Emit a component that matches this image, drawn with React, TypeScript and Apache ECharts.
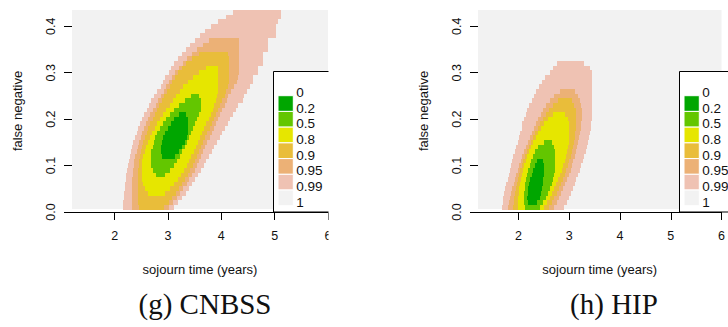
import React, { useEffect, useRef } from "react";
import * as echarts from "echarts";

// ---------- data ----------
const levelLabels = ["0", "0.2", "0.5", "0.8", "0.9", "0.95", "0.99", "1"];
const levelColors = ["#00A600", "#63C600", "#E6E600", "#E9BD3A", "#ECB176", "#EFC2B3", "#F2F2F2"];
const xTicks = [2, 3, 4, 5, 6];
const yTicks = [0, 0.1, 0.2, 0.3, 0.4];
const xMin = 1.2;
const xMax = 6.0;
const yMin = 0;
const yMax = 0.435;
const imageBottom = 0.006;
const rowHeight = 0.01;
const panelTitles = ["(g) CNBSS", "(h) HIP"];
const xTitle = "sojourn time (years)";
const yTitle = "false negative";

// rows: [false negative (row centre), sojourn time left edge, sojourn time right edge]
const cnbss99 = [
  [0.43, 4.22, 5.11], [0.42, 4.08, 5.11], [0.41, 3.93, 5.06], [0.40, 3.80, 5.02], [0.39, 3.69, 5.02],
  [0.38, 3.60, 5.02], [0.37, 3.51, 4.88], [0.36, 3.42, 4.88], [0.35, 3.34, 4.88], [0.34, 3.26, 4.78],
  [0.33, 3.19, 4.78], [0.32, 3.12, 4.78], [0.31, 3.06, 4.68], [0.30, 3.01, 4.68], [0.29, 2.95, 4.59],
  [0.28, 2.90, 4.59], [0.27, 2.86, 4.54], [0.26, 2.80, 4.49], [0.25, 2.74, 4.42], [0.24, 2.69, 4.40],
  [0.23, 2.64, 4.32], [0.22, 2.60, 4.27], [0.21, 2.55, 4.22], [0.20, 2.51, 4.17], [0.19, 2.47, 4.12],
  [0.18, 2.44, 4.07], [0.17, 2.41, 4.02], [0.16, 2.38, 3.97], [0.15, 2.35, 3.92], [0.14, 2.33, 3.87],
  [0.13, 2.31, 3.82], [0.12, 2.29, 3.77], [0.11, 2.27, 3.72], [0.10, 2.25, 3.67], [0.09, 2.24, 3.62],
  [0.08, 2.22, 3.57], [0.07, 2.21, 3.51], [0.06, 2.20, 3.45], [0.05, 2.19, 3.39], [0.04, 2.18, 3.33],
  [0.03, 2.17, 3.26], [0.02, 2.165, 3.19], [0.01, 2.16, 3.11],
];
const cnbss95 = [
  [0.37, 3.77, 4.33], [0.36, 3.66, 4.34], [0.35, 3.55, 4.34], [0.34, 3.45, 4.34], [0.33, 3.36, 4.34],
  [0.32, 3.28, 4.34], [0.31, 3.21, 4.33], [0.30, 3.14, 4.33], [0.29, 3.08, 4.32], [0.28, 3.02, 4.29],
  [0.27, 2.97, 4.24], [0.26, 2.92, 4.18], [0.25, 2.87, 4.13], [0.24, 2.82, 4.10], [0.23, 2.77, 4.06],
  [0.22, 2.72, 4.02], [0.21, 2.67, 3.98], [0.20, 2.63, 3.94], [0.19, 2.59, 3.90], [0.18, 2.55, 3.86],
  [0.17, 2.52, 3.82], [0.16, 2.49, 3.78], [0.15, 2.46, 3.74], [0.14, 2.43, 3.70], [0.13, 2.41, 3.66],
  [0.12, 2.39, 3.62], [0.11, 2.37, 3.58], [0.10, 2.36, 3.54], [0.09, 2.35, 3.50], [0.08, 2.34, 3.45],
  [0.07, 2.33, 3.40], [0.06, 2.33, 3.35], [0.05, 2.32, 3.29], [0.04, 2.32, 3.23], [0.03, 2.32, 3.17],
  [0.02, 2.32, 3.10], [0.01, 2.33, 3.02],
];
const cnbss90 = [
  [0.34, 3.58, 4.13], [0.33, 3.45, 4.15], [0.32, 3.34, 4.15], [0.31, 3.26, 4.15], [0.30, 3.19, 4.15],
  [0.29, 3.13, 4.15], [0.28, 3.08, 4.14], [0.27, 3.03, 4.12], [0.26, 2.98, 4.09], [0.25, 2.93, 4.06],
  [0.24, 2.88, 4.02], [0.23, 2.84, 3.98], [0.22, 2.79, 3.94], [0.21, 2.75, 3.90], [0.20, 2.71, 3.86],
  [0.19, 2.67, 3.82], [0.18, 2.63, 3.78], [0.17, 2.60, 3.74], [0.16, 2.57, 3.70], [0.15, 2.54, 3.66],
  [0.14, 2.51, 3.62], [0.13, 2.49, 3.58], [0.12, 2.47, 3.54], [0.11, 2.46, 3.50], [0.10, 2.45, 3.46],
  [0.09, 2.44, 3.42], [0.08, 2.43, 3.37], [0.07, 2.43, 3.32], [0.06, 2.43, 3.27], [0.05, 2.43, 3.21],
  [0.04, 2.43, 3.15], [0.03, 2.44, 3.08], [0.02, 2.44, 3.01], [0.01, 2.45, 2.93],
];
const cnbss80 = [
  [0.31, 3.72, 3.94], [0.30, 3.58, 3.94], [0.29, 3.46, 3.94], [0.28, 3.37, 3.94], [0.27, 3.29, 3.94],
  [0.26, 3.22, 3.93], [0.25, 3.15, 3.92], [0.24, 3.09, 3.90], [0.23, 3.03, 3.87], [0.22, 2.96, 3.84],
  [0.21, 2.90, 3.80], [0.20, 2.85, 3.76], [0.19, 2.80, 3.72], [0.18, 2.75, 3.68], [0.17, 2.70, 3.64],
  [0.16, 2.66, 3.60], [0.15, 2.62, 3.56], [0.14, 2.59, 3.52], [0.13, 2.56, 3.48], [0.12, 2.54, 3.44],
  [0.11, 2.52, 3.40], [0.10, 2.51, 3.35], [0.09, 2.51, 3.30], [0.08, 2.51, 3.25], [0.07, 2.52, 3.19],
  [0.06, 2.54, 3.12], [0.05, 2.57, 3.04], [0.04, 2.62, 2.94],
];
const cnbss50 = [
  [0.25, 3.44, 3.58], [0.24, 3.32, 3.61], [0.23, 3.20, 3.62], [0.22, 3.11, 3.61], [0.21, 3.03, 3.58],
  [0.20, 2.96, 3.55], [0.19, 2.90, 3.51], [0.18, 2.85, 3.47], [0.17, 2.80, 3.43], [0.16, 2.76, 3.39],
  [0.15, 2.73, 3.35], [0.14, 2.71, 3.31], [0.13, 2.69, 3.27], [0.12, 2.68, 3.22], [0.11, 2.68, 3.17],
  [0.10, 2.69, 3.11], [0.09, 2.72, 3.04], [0.08, 2.78, 2.95],
];
const cnbss20 = [
  [0.21, 3.20, 3.34], [0.20, 3.11, 3.37], [0.19, 3.05, 3.38], [0.18, 3.00, 3.38], [0.17, 2.95, 3.37],
  [0.16, 2.91, 3.35], [0.15, 2.88, 3.31], [0.14, 2.86, 3.26], [0.13, 2.86, 3.21], [0.12, 2.89, 3.14],
];

const hip99 = [
  [0.32, 2.76, 3.28], [0.31, 2.68, 3.40], [0.30, 2.61, 3.44], [0.29, 2.53, 3.44], [0.28, 2.46, 3.44],
  [0.27, 2.40, 3.44], [0.26, 2.34, 3.44], [0.25, 2.30, 3.44], [0.24, 2.26, 3.44], [0.23, 2.21, 3.44],
  [0.22, 2.175, 3.44], [0.21, 2.14, 3.44], [0.20, 2.11, 3.44], [0.19, 2.075, 3.43], [0.18, 2.06, 3.42],
  [0.17, 2.03, 3.40], [0.16, 2.006, 3.38], [0.15, 1.98, 3.36], [0.14, 1.94, 3.34], [0.13, 1.92, 3.32],
  [0.12, 1.89, 3.29], [0.11, 1.875, 3.27], [0.10, 1.856, 3.24], [0.09, 1.83, 3.21], [0.08, 1.81, 3.18],
  [0.07, 1.79, 3.14], [0.06, 1.76, 3.11], [0.05, 1.74, 3.07], [0.04, 1.72, 3.03], [0.03, 1.70, 3.00],
  [0.02, 1.69, 2.95], [0.01, 1.675, 2.89],
];
const hip95 = [
  [0.26, 2.82, 3.12], [0.25, 2.70, 3.18], [0.24, 2.62, 3.22], [0.23, 2.55, 3.24], [0.22, 2.49, 3.25],
  [0.21, 2.44, 3.25], [0.20, 2.39, 3.25], [0.19, 2.35, 3.24], [0.18, 2.31, 3.23], [0.17, 2.27, 3.21],
  [0.16, 2.23, 3.19], [0.15, 2.19, 3.17], [0.14, 2.15, 3.15], [0.13, 2.11, 3.13], [0.12, 2.07, 3.11],
  [0.11, 2.04, 3.08], [0.10, 2.01, 3.06], [0.09, 1.98, 3.03], [0.08, 1.95, 3.00], [0.07, 1.92, 2.96],
  [0.06, 1.90, 2.92], [0.05, 1.87, 2.88], [0.04, 1.85, 2.84], [0.03, 1.83, 2.80], [0.02, 1.81, 2.75],
  [0.01, 1.80, 2.70],
];
const hip90 = [
  [0.24, 2.78, 3.06], [0.23, 2.68, 3.10], [0.22, 2.60, 3.13], [0.21, 2.54, 3.14], [0.20, 2.48, 3.14],
  [0.19, 2.43, 3.14], [0.18, 2.38, 3.13], [0.17, 2.33, 3.12], [0.16, 2.28, 3.11], [0.15, 2.24, 3.09],
  [0.14, 2.20, 3.07], [0.13, 2.16, 3.05], [0.12, 2.12, 3.03], [0.11, 2.09, 3.00], [0.10, 2.06, 2.97],
  [0.09, 2.03, 2.94], [0.08, 2.01, 2.91], [0.07, 1.98, 2.87], [0.06, 1.96, 2.83], [0.05, 1.94, 2.79],
  [0.04, 1.92, 2.75], [0.03, 1.91, 2.70], [0.02, 1.90, 2.65], [0.01, 1.89, 2.60],
];
const hip80 = [
  [0.21, 2.68, 2.92], [0.20, 2.58, 2.97], [0.19, 2.51, 2.99], [0.18, 2.45, 3.00], [0.17, 2.39, 3.00],
  [0.16, 2.34, 3.00], [0.15, 2.29, 2.99], [0.14, 2.25, 2.98], [0.13, 2.21, 2.96], [0.12, 2.17, 2.94],
  [0.11, 2.14, 2.91], [0.10, 2.11, 2.88], [0.09, 2.08, 2.85], [0.08, 2.06, 2.82], [0.07, 2.04, 2.78],
  [0.06, 2.02, 2.74], [0.05, 2.01, 2.70], [0.04, 2.00, 2.66], [0.03, 1.99, 2.61], [0.02, 1.99, 2.56],
  [0.01, 1.99, 2.50],
];
const hip50 = [
  [0.15, 2.50, 2.66], [0.14, 2.38, 2.69], [0.13, 2.32, 2.71], [0.12, 2.28, 2.72], [0.11, 2.25, 2.72],
  [0.10, 2.22, 2.72], [0.09, 2.19, 2.71], [0.08, 2.17, 2.70], [0.07, 2.15, 2.68], [0.06, 2.13, 2.65],
  [0.05, 2.12, 2.62], [0.04, 2.11, 2.58], [0.03, 2.11, 2.54], [0.02, 2.11, 2.49], [0.01, 2.12, 2.43],
];
const hip20 = [
  [0.11, 2.36, 2.48], [0.10, 2.32, 2.50], [0.09, 2.29, 2.50], [0.08, 2.26, 2.50], [0.07, 2.23, 2.49],
  [0.06, 2.21, 2.48], [0.05, 2.19, 2.47], [0.04, 2.18, 2.45], [0.03, 2.17, 2.42], [0.02, 2.19, 2.37],
];

const panelBands = [
  [cnbss99, cnbss95, cnbss90, cnbss80, cnbss50, cnbss20],
  [hip99, hip95, hip90, hip80, hip50, hip20],
];

// ---------- layout ----------
const W = 728;
const H = 327;
const gridLefts = [72, 478];
const gridTop = 10;
const gridWidth = 256;
const gridHeight = 202;
const legendLefts = [273.5, 679.5];
const captionCenters = [205, 614];
const FONT = "Liberation Sans";

function bandItems(bands: number[][][]) {
  const out: number[][] = [];
  bands.forEach((rows, k) => {
    const colorIndex = 5 - k; // outer (0.99) -> inner (0.2)
    rows.forEach((r) => out.push([r[0], r[1], r[2], colorIndex]));
  });
  return out;
}

function legendGraphics(left: number) {
  const els: any[] = [];
  const boxTop = 71.5;
  const boxBottom = 212;
  els.push({
    type: "rect",
    z: 20,
    shape: { x: left, y: boxTop, width: 70, height: boxBottom - boxTop },
    style: { fill: "#fff", stroke: "#000", lineWidth: 1 },
  });
  const step = 15.72;
  levelColors.forEach((c, i) => {
    els.push({
      type: "rect",
      z: 21,
      shape: { x: left + 4.5, y: 95.7 + step * i, width: 15.3, height: step },
      style: { fill: c, stroke: "#fff", lineWidth: 1 },
    });
  });
  levelLabels.forEach((t, i) => {
    els.push({
      type: "text",
      z: 22,
      x: left + 22.8,
      y: 92.3 + step * i,
      style: {
        text: t,
        fill: "#111",
        font: `13.5px '${FONT}'`,
        textAlign: "left",
        textVerticalAlign: "middle",
      },
    });
  });
  return els;
}

export default function App() {
  const ref = useRef<HTMLDivElement>(null);
  useEffect(() => {
    if (!ref.current) return;
    const chart = echarts.init(ref.current, undefined, { renderer: "svg", width: W, height: H });

    const grids = gridLefts.map((l) => ({ left: l, top: gridTop, width: gridWidth, height: gridHeight }));
    const xAxes = gridLefts.map((_, i) => ({
      type: "value",
      gridIndex: i,
      min: xMin,
      max: xMax,
      axisLine: { show: true, onZero: false, lineStyle: { color: "#000", width: 1 } },
      axisTick: { show: true, length: 8, customValues: xTicks, lineStyle: { color: "#000" } },
      axisLabel: {
        customValues: xTicks,
        margin: 17,
        fontSize: 12.5,
        color: "#111",
        fontFamily: FONT,
        formatter: (v: number) => String(v),
        showMinLabel: true,
        showMaxLabel: true,
      },
      splitLine: { show: false },
      name: xTitle,
      nameLocation: "middle",
      nameGap: 51,
      nameTextStyle: { fontSize: 13, color: "#111", fontFamily: FONT },
    }));
    const yAxes = gridLefts.map((_, i) => ({
      type: "value",
      gridIndex: i,
      min: yMin,
      max: yMax,
      axisLine: { show: false },
      axisTick: { show: true, length: 8, customValues: yTicks, lineStyle: { color: "#000" } },
      axisLabel: {
        customValues: yTicks,
        rotate: 90,
        margin: 15,
        fontSize: 12.5,
        color: "#111",
        fontFamily: FONT,
        formatter: (v: number) => v.toFixed(1),
        showMinLabel: true,
        showMaxLabel: true,
      },
      splitLine: { show: false },
      name: yTitle,
      nameLocation: "middle",
      nameGap: 48,
      nameTextStyle: { fontSize: 13, color: "#111", fontFamily: FONT },
    }));

    const series: any[] = [];
    panelBands.forEach((bands, i) => {
      series.push({
        type: "custom",
        xAxisIndex: i,
        yAxisIndex: i,
        silent: true,
        clip: true,
        z: 1,
        data: [[xMin, xMax, imageBottom, yMax]],
        renderItem: (params: any, api: any) => {
          const a = api.coord([api.value(0), api.value(3)]);
          const b = api.coord([api.value(1), api.value(2)]);
          return {
            type: "rect",
            shape: { x: a[0], y: Math.round(a[1]), width: b[0] - a[0], height: Math.round(b[1]) - Math.round(a[1]) },
            style: { fill: levelColors[6] },
          };
        },
      });
      series.push({
        type: "custom",
        xAxisIndex: i,
        yAxisIndex: i,
        silent: true,
        clip: true,
        z: 2,
        dimensions: ["fn", "xl", "xr", "c"],
        encode: { x: ["xl", "xr"], y: "fn" },
        data: bandItems(bands),
        renderItem: (params: any, api: any) => {
          const y = api.value(0);
          const tl = api.coord([api.value(1), y + rowHeight / 2]);
          const br = api.coord([api.value(2), y - rowHeight / 2]);
          const x0 = Math.round(tl[0]);
          const y0 = Math.round(tl[1]);
          const x1 = Math.round(br[0]);
          const y1 = Math.round(br[1]);
          return {
            type: "rect",
            shape: { x: x0, y: y0, width: x1 - x0, height: y1 - y0 },
            style: { fill: levelColors[api.value(3)] },
          };
        },
      });
    });

    const graphics: any[] = [];
    legendLefts.forEach((l) => graphics.push(...legendGraphics(l)));
    // clip of the left sub-figure
    graphics.push({
      type: "rect",
      z: 100,
      shape: { x: 328.5, y: 0, width: 82, height: 262 },
      style: { fill: "#fff" },
    });
    panelTitles.forEach((t, i) => {
      graphics.push({
        type: "text",
        z: 30,
        x: captionCenters[i],
        y: 304,
        style: {
          text: t,
          fill: "#111",
          font: "29px 'Liberation Serif'",
          textAlign: "center",
          textVerticalAlign: "middle",
        },
      });
    });

    chart.setOption({
      animation: false,
      backgroundColor: "#fff",
      textStyle: { fontFamily: FONT },
      grid: grids,
      xAxis: xAxes,
      yAxis: yAxes,
      series,
      graphic: graphics,
    });
    return () => chart.dispose();
  }, []);
  return <div ref={ref} style={{ position: "absolute", left: 0, top: 0, width: W, height: H }} />;
}
